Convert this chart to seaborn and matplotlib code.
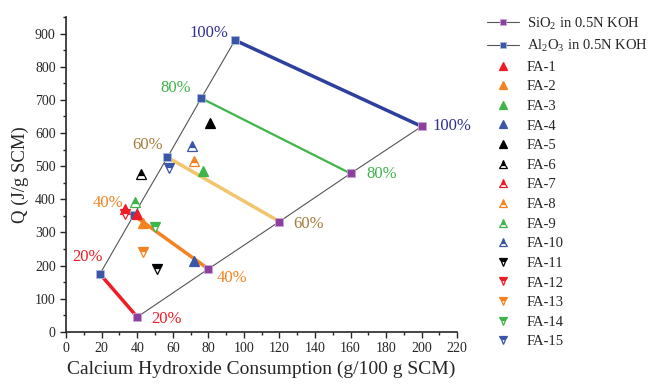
import numpy as np
import pandas as pd
import seaborn as sns
import matplotlib.pyplot as plt

# data
pct = ["20%", "40%", "60%", "80%", "100%"]
sio2_x = [40, 80, 120, 160, 200]
sio2_y = [45, 190, 333, 478, 620]
al2o3_x = [19, 38, 57, 76, 95]
al2o3_y = [175, 352, 527, 705, 880]

fa_names = ["FA-%d" % i for i in range(1, 16)]
fa_x = [40, 43, 77, 72, 81, 42, 33, 72, 39, 71, 51, 33, 43, 50, 58]
fa_y = [357, 330, 485, 215, 630, 475, 372, 515, 392, 560, 191, 355, 240, 318, 495]

sns.set_style("ticks")
plt.rcParams["font.family"] = ["Liberation Serif", "DejaVu Serif"]
plt.rcParams["mathtext.fontset"] = "custom"
plt.rcParams["mathtext.rm"] = "Liberation Serif"
plt.rcParams["mathtext.default"] = "regular"

red, orange, green, blue, black = "#EE1C25", "#F58220", "#3DB54A", "#3A56A6", "#000000"
fa_colors = [red, orange, green, blue, black] + [black, red, orange, green, blue] * 2
fa_markers = ["^"] * 10 + ["v"] * 5
fa_fill = ["full"] * 5 + ["top"] * 10

pct_line_col = ["#EE1C25", "#F58220", "#F2C46B", "#3DB54A", "#2E3F9E"]
pct_line_w = [2.5, 2.5, 2.5, 1.6, 2.5]
pct_text_col = ["#EE1C25", "#F58220", "#A67C3D", "#3DB54A", "#2E3192"]
# label offsets in pixels (Al2O3 labels right-aligned, SiO2 labels left-aligned)
al_off = [(3, 17), (-10, 12), (-5, 12), (-10, 10), (-7, 7)]
si_off = [(14, -2), (8, -9), (14, -2), (16, -1), (11, 0)]

fig, ax = plt.subplots(figsize=(6.55, 3.86), dpi=100)
fig.subplots_adjust(left=0.101, right=0.698, bottom=0.14, top=0.956)

# connecting lines between pairs with same percentage
for i in range(5):
    seg = pd.DataFrame({"x": [al2o3_x[i], sio2_x[i]], "y": [al2o3_y[i], sio2_y[i]]})
    sns.lineplot(data=seg, x="x", y="y", ax=ax, color=pct_line_col[i],
                 lw=pct_line_w[i], sort=False, zorder=2)

si = pd.DataFrame({"x": sio2_x, "y": sio2_y})
al = pd.DataFrame({"x": al2o3_x, "y": al2o3_y})
sns.lineplot(data=si, x="x", y="y", ax=ax, color="#555555", lw=0.8, marker="s",
             markersize=6, markerfacecolor="#8B3F9E", markeredgecolor="#C9A6D6",
             markeredgewidth=0.6, label="SiO$_2$ in 0.5N KOH", zorder=3)
sns.lineplot(data=al, x="x", y="y", ax=ax, color="#555555", lw=0.8, marker="s",
             markersize=6, markerfacecolor="#3A56A6", markeredgecolor="#A9B8DE",
             markeredgewidth=0.6, label="Al$_2$O$_3$ in 0.5N KOH", zorder=3)

for i in range(15):
    ax.plot(fa_x[i], fa_y[i], linestyle="none", marker=fa_markers[i],
            fillstyle=fa_fill[i], color=fa_colors[i], markerfacecoloralt="white",
            markeredgecolor=fa_colors[i], markersize=7, markeredgewidth=0.9,
            label=fa_names[i], zorder=4)

# percentage labels
for i in range(5):
    ax.annotate(pct[i], (al2o3_x[i], al2o3_y[i]), textcoords="offset pixels",
                xytext=al_off[i], ha="right", va="center", color=pct_text_col[i], fontsize=12)
    ax.annotate(pct[i], (sio2_x[i], sio2_y[i]), textcoords="offset pixels",
                xytext=si_off[i], ha="left", va="center", color=pct_text_col[i], fontsize=12)

ax.set_xlim(0, 220)
ax.set_ylim(0, 950)
ax.set_xticks(np.arange(0, 221, 20))
ax.set_yticks(np.arange(0, 901, 100))
ax.set_xticks(np.arange(0, 221, 10), minor=True)
ax.set_yticks(np.arange(0, 951, 50), minor=True)
ax.tick_params(axis="both", which="major", direction="out", length=4, width=1, labelsize=10)
ax.tick_params(axis="both", which="minor", direction="out", length=2.5, width=1)
sns.despine(ax=ax)
ax.spines["left"].set_linewidth(1.2)
ax.spines["bottom"].set_linewidth(1.2)
ax.set_xlabel("Calcium Hydroxide Consumption (g/100 g SCM)", fontsize=14)
ax.set_ylabel("Q (J/g SCM)", fontsize=13.5)

ax.legend(loc="upper left", bbox_to_anchor=(0.735, 0.975), bbox_transform=fig.transFigure,
          frameon=False, fontsize=10.5, labelspacing=0.44, handlelength=2.2,
          handletextpad=0.5, borderaxespad=0, markerscale=0.8)

fig.savefig("out.png", dpi=100)
